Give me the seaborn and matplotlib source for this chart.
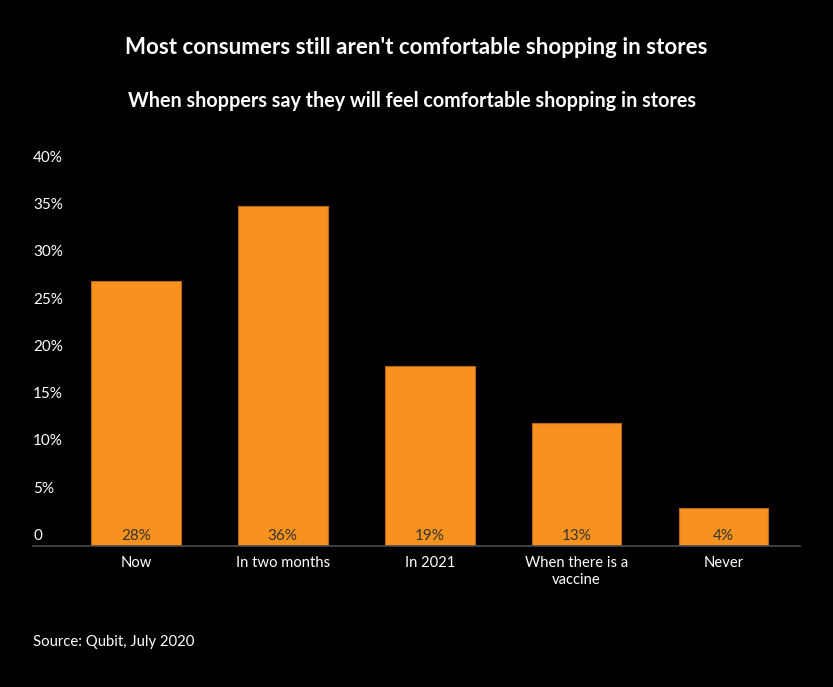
import matplotlib
matplotlib.use("Agg")
import matplotlib.pyplot as plt
import matplotlib.transforms as mtransforms
import pandas as pd
import seaborn as sns

# data
categories = ["Now", "In two months", "In 2021", "When there is a\nvaccine", "Never"]
shares = [28, 36, 19, 13, 4]
y_ticks = [0, 5, 10, 15, 20, 25, 30, 35, 40]
y_tick_labels = ["0", "5%", "10%", "15%", "20%", "25%", "30%", "35%", "40%"]

title = "Most consumers still aren't comfortable shopping in stores"
subtitle = "When shoppers say they will feel comfortable shopping in stores"
source = "Source: Qubit, July 2020"

BG = "#000000"
BAR = "#F7921E"
EDGE = "#B8661A"

sns.set_theme(style="white")
plt.rcParams["font.family"] = ["Lato", "DejaVu Sans"]

df = pd.DataFrame({"when": categories, "share": shares})

fig = plt.figure(figsize=(8.33, 6.87), dpi=100, facecolor=BG)
ax = fig.add_axes([33 / 833, 1 - 546 / 687, 767 / 833, 378 / 687])
ax.set_facecolor(BG)

sns.barplot(data=df, x="when", y="share", color=BAR, width=0.61,
            edgecolor=EDGE, linewidth=0.8, saturation=1, ax=ax)

ax.set_xlim(-0.70, 4.52)
ax.set_ylim(0, 40)
ax.set_xlabel("")
ax.set_ylabel("")

for s in ["top", "right", "left"]:
    ax.spines[s].set_visible(False)
ax.spines["bottom"].set_color("#4a4a4a")
ax.spines["bottom"].set_linewidth(1.2)

ax.tick_params(axis="x", length=0, pad=7, labelsize=10.6, labelcolor="white")
for lab in ax.get_xticklabels():
    lab.set_linespacing(1.3)
ax.set_yticks([])

# y labels sit left-aligned above their gridline positions
ytrans = mtransforms.blended_transform_factory(ax.transAxes, ax.transData)
yoff = mtransforms.ScaledTranslation(0, 6 / 100, fig.dpi_scale_trans)
for v, lab in zip(y_ticks, y_tick_labels):
    ax.text(0, v, lab, transform=ytrans + yoff, ha="left", va="baseline",
            color="white", fontsize=11)

# value labels at the foot of each bar
for i, v in enumerate(shares):
    ax.text(i, 0, f"{v}%", transform=ax.transData + yoff, ha="center",
            va="baseline", color="#333333", fontsize=11)

fig.text(416 / 833, 1 - 47 / 687, title, ha="center", va="center",
         color="white", fontsize=16.1, fontweight="bold")
fig.text(412 / 833, 1 - 101 / 687, subtitle, ha="center", va="center",
         color="white", fontsize=14.2, fontweight="bold")
fig.text(33 / 833, 1 - 642 / 687, source, ha="left", va="center",
         color="white", fontsize=10.7)

fig.savefig("out.png", dpi=100, facecolor=BG)
